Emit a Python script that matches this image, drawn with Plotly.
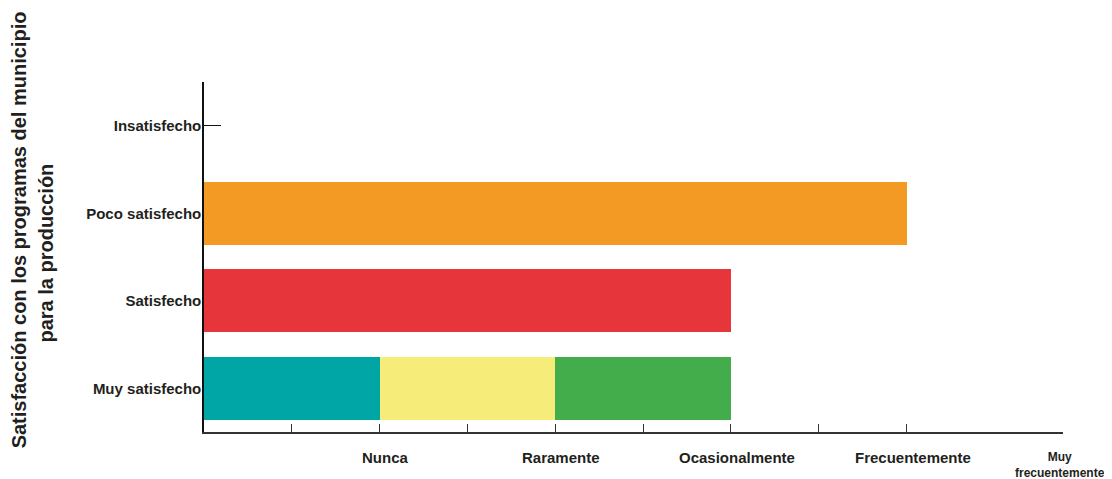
import plotly.graph_objects as go

categories = ["Muy satisfecho", "Satisfecho", "Poco satisfecho", "Insatisfecho"]
nunca = [1, 0, 0, 0]
raramente = [1, 0, 0, 0]
ocasionalmente = [1, 0, 0, 0]
satisfecho = [0, 3, 0, 0]
poco = [0, 0, 4, 0]

tick_vals = [1, 2, 3, 4, 4.89]
tick_text = ["Nunca", "Raramente", "Ocasionalmente", "Frecuentemente", "Muy<br>frecuentemente"]
minor_vals = [0, 0.5, 1.5, 2.5, 3.5]

series = [
    ("Nunca", nunca, "#00A6A6"),
    ("Raramente", raramente, "#F5EC7A"),
    ("Ocasionalmente", ocasionalmente, "#43AD4B"),
    ("Satisfecho", satisfecho, "#E6363C"),
    ("Poco", poco, "#F39A25"),
]

FONT = "Liberation Sans, Arial, sans-serif"
DARK = "#231F20"

fig = go.Figure()
for name, vals, col in series:
    fig.add_trace(go.Bar(y=categories, x=vals, orientation="h", name=name,
                         marker=dict(color=col, line=dict(width=0)), width=0.72,
                         showlegend=False))

fig.update_layout(
    barmode="stack",
    width=1104, height=471,
    margin=dict(l=196, r=49, t=74, b=47),
    plot_bgcolor="white", paper_bgcolor="white",
    font=dict(family=FONT, color=DARK),
)
fig.update_xaxes(range=[0, 4.89], showgrid=False, zeroline=False,
                 showline=True, linecolor="#333333", linewidth=1.5,
                 tickvals=tick_vals + minor_vals, ticktext=[""] * (len(tick_vals) + len(minor_vals)),
                 ticks="inside", ticklen=8, tickcolor="#333333", tickwidth=1.2,
                 layer="below traces")
fig.update_yaxes(categoryorder="array", categoryarray=categories, range=[-0.5, 3.5],
                 showgrid=False, zeroline=False, showline=True, linecolor="#111111",
                 linewidth=1.5, ticks="inside", ticklen=17, tickcolor="#111111",
                 tickwidth=1.2, layer="below traces", ticklabelstandoff=-2,
                 tickfont=dict(family=FONT, size=15, color=DARK, weight="bold"))

for v, t in zip(tick_vals, tick_text):
    small = "<br>" in t
    fig.add_annotation(x=v, y=0, xref="x", yref="paper", text="<b>" + t + "</b>",
                       showarrow=False, yanchor="top", xanchor="center",
                       xshift=-3 if small else 6,
                       yshift=-16 if small else -15,
                       font=dict(family=FONT, size=12 if small else 15, color=DARK))

fig.add_annotation(x=-0.215, y=0.577, xref="paper", yref="paper",
                   text="<b>Satisfacción con los programas del municipio</b>",
                   textangle=-90, showarrow=False, xanchor="center", yanchor="middle",
                   font=dict(family=FONT, size=20, color=DARK))
fig.add_annotation(x=-0.185, y=0.51, xref="paper", yref="paper",
                   text="<b>para la producción</b>",
                   textangle=-90, showarrow=False, xanchor="center", yanchor="middle",
                   font=dict(family=FONT, size=20, color=DARK))

fig.write_html("out.html")
